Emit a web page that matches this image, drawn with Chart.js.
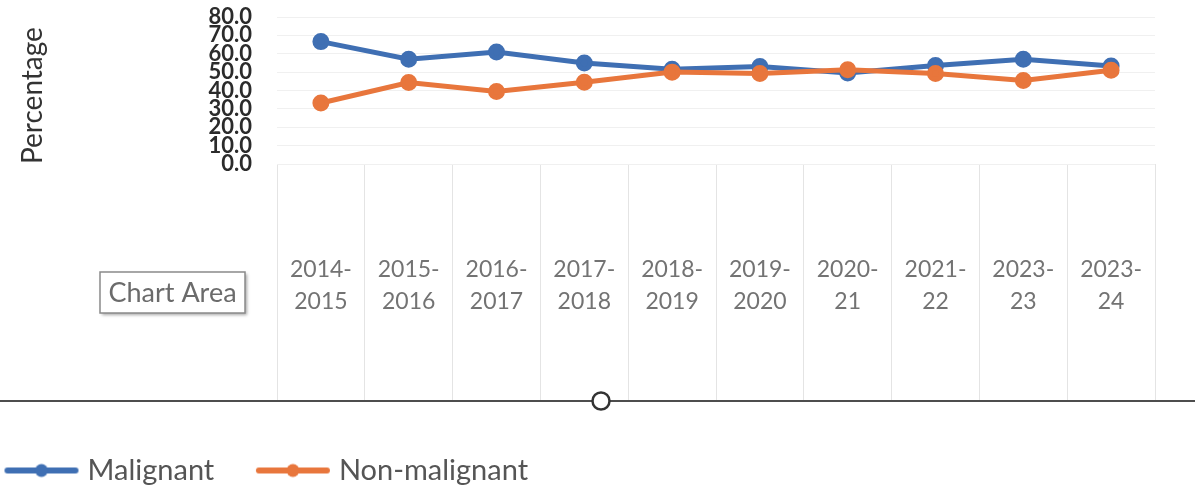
<!DOCTYPE html>
<html>
<head>
<meta charset="utf-8">
<script src="https://cdn.jsdelivr.net/npm/chart.js@4/dist/chart.umd.min.js"></script>
<style>
  html, body { margin: 0; padding: 0; background: #ffffff; }
  #wrap { position: relative; width: 1195px; height: 495px; }
</style>
</head>
<body>
<div id="wrap"><canvas id="c"></canvas></div>
<script>
// ---- data ----
const categories = [
  ['2014-', '2015'], ['2015-', '2016'], ['2016-', '2017'], ['2017-', '2018'],
  ['2018-', '2019'], ['2019-', '2020'], ['2020-', '21'], ['2021-', '22'],
  ['2023-', '23'], ['2023-', '24']
];
const malignant    = [66.6, 57.0, 61.0, 55.0, 51.6, 53.0, 49.5, 53.6, 57.0, 53.3];
const nonMalignant = [33.2, 44.3, 39.4, 44.5, 50.0, 49.3, 51.3, 49.2, 45.5, 51.0];
const yTickValues  = [0, 10, 20, 30, 40, 50, 60, 70, 80];
const seriesNames  = ['Malignant', 'Non-malignant'];
const yTitle = 'Percentage';
const overlayLabel = 'Chart Area';

const BLUE = '#3f6fb3';
const ORANGE = '#e8763c';

function legendIcon(color) {
  const c = document.createElement('canvas');
  c.width = 76; c.height = 16;
  const g = c.getContext('2d');
  g.strokeStyle = color; g.lineWidth = 6; g.lineCap = 'round';
  g.beginPath(); g.moveTo(4, 8); g.lineTo(72, 8); g.stroke();
  g.fillStyle = color;
  g.beginPath(); g.arc(38, 8, 6.5, 0, Math.PI * 2); g.fill();
  return c;
}
const icons = [legendIcon(BLUE), legendIcon(ORANGE)];
const legendGap = ['\u00a0\u00a0\u00a0\u00a0\u00a0', ''];

const overlay = {
  id: 'overlay',
  afterDraw(chart) {
    const ctx = chart.ctx;
    const W = chart.width;
    ctx.save();
    // Excel-style "Chart Area" hover tag
    ctx.shadowColor = 'rgba(0,0,0,0.35)';
    ctx.shadowOffsetX = 2; ctx.shadowOffsetY = 2; ctx.shadowBlur = 3;
    ctx.fillStyle = '#ffffff';
    ctx.fillRect(100, 272, 145, 41);
    ctx.shadowColor = 'transparent';
    ctx.strokeStyle = '#8a8a8a'; ctx.lineWidth = 1.5;
    ctx.strokeRect(100, 272, 145, 41);
    ctx.fillStyle = '#6b6b6b';
    ctx.font = '27px Lato, "Open Sans", sans-serif';
    ctx.textAlign = 'center'; ctx.textBaseline = 'middle';
    ctx.fillText(overlayLabel, 172.5, 293);
    // selection edge line with handle
    ctx.strokeStyle = '#4d4d4d'; ctx.lineWidth = 2;
    ctx.beginPath(); ctx.moveTo(0, 401); ctx.lineTo(W, 401); ctx.stroke();
    ctx.fillStyle = '#ffffff'; ctx.lineWidth = 2.5; ctx.strokeStyle = '#333333';
    ctx.beginPath(); ctx.arc(601, 401, 8.5, 0, Math.PI * 2); ctx.fill(); ctx.stroke();
    ctx.restore();
  }
};

new Chart(document.getElementById('c'), {
  type: 'line',
  data: {
    labels: categories,
    datasets: [
      { label: seriesNames[0], data: malignant, borderColor: BLUE, backgroundColor: BLUE,
        borderWidth: 5, pointRadius: 6, pointBackgroundColor: BLUE, pointBorderColor: BLUE,
        tension: 0, order: 2 },
      { label: seriesNames[1], data: nonMalignant, borderColor: ORANGE, backgroundColor: ORANGE,
        borderWidth: 5, pointRadius: 6, pointBackgroundColor: ORANGE, pointBorderColor: ORANGE,
        tension: 0, order: 1 }
    ]
  },
  options: {
    responsive: true,
    maintainAspectRatio: false,
    animation: false,
    devicePixelRatio: 1,
    layout: { padding: { top: 17, right: 40, bottom: 0, left: 0 } },
    plugins: {
      tooltip: { enabled: false },
      legend: {
        position: 'bottom',
        align: 'start',
        labels: {
          usePointStyle: true,
          pointStyleWidth: 63,
          padding: 10,
          color: '#555555',
          font: { family: 'Lato, "Open Sans", sans-serif', size: 29 },
          generateLabels(chart) {
            return chart.data.datasets.map((ds, i) => ({
              text: ds.label + legendGap[i],
              fillStyle: ds.borderColor,
              strokeStyle: ds.borderColor,
              fontColor: '#555555',
              lineWidth: 0,
              pointStyle: icons[i],
              hidden: false,
              datasetIndex: i
            }));
          }
        }
      }
    },
    scales: {
      x: {
        offset: true,
        border: { display: false },
        grid: {
          offset: true,
          drawOnChartArea: false,
          drawTicks: true,
          tickLength: 237,
          tickColor: '#e4e4e4',
          lineWidth: 1
        },
        ticks: {
          padding: -148,
          color: '#737373',
          maxRotation: 0,
          autoSkip: false,
          font: { family: 'Lato, "Open Sans", sans-serif', size: 23, lineHeight: 1.4 }
        },
        afterFit(s) { s.height = 282; }
      },
      y: {
        min: 0, max: 80,
        border: { display: false },
        grid: { color: '#f0f0f0', drawTicks: true, tickLength: 25, tickColor: 'rgba(0,0,0,0)', lineWidth: 1 },
        afterBuildTicks(s) { s.ticks = yTickValues.map(v => ({ value: v })); },
        ticks: {
          autoSkip: false,
          padding: 0,
          color: '#2b2b2b',
          font: { family: 'Lato, "Open Sans", sans-serif', size: 22, weight: 'bold', lineHeight: 1 },
          callback: v => Number(v).toFixed(1)
        },
        title: {
          display: true,
          text: yTitle,
          align: 'start',
          color: '#333333',
          padding: { top: 16, bottom: 0 },
          font: { family: 'Lato, "Open Sans", sans-serif', size: 28 }
        },
        afterFit(s) { s.width = 277; }
      }
    }
  },
  plugins: [overlay]
});
</script>
</body>
</html>
